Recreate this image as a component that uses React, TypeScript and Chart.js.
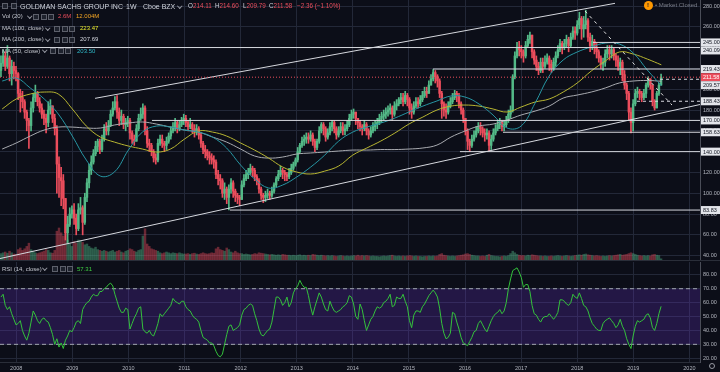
import React, { useEffect, useRef } from "react";
import { Chart, registerables } from "chart.js";

Chart.register(...registerables);

// ---------- time index (bi-weekly bars) ----------
const START_YEAR = 2007.728;
const STEP_YEARS = 14 / 365.25;
const FIRST_OPEN = 218;
const LAST_CLOSE = 211.58;

// ---------- price data (bi-weekly) ----------
const closes = [
  225, 232, 222, 230, 215, 222, 218, 215,
  196, 192, 188, 178, 170, 165,
  182, 192, 196, 188, 182, 176, 172, 168, 180, 184, 172, 162,
  128, 115, 112, 95, 62, 70, 80, 84,
  76, 66, 84, 86, 72, 96, 110, 122, 130, 138, 145, 150, 142, 152, 162, 160, 165, 176, 182, 188, 178, 170, 174, 166, 168, 170,
  158, 152, 150, 162, 172, 176, 182, 160, 148, 146, 140, 134, 132, 148, 152, 148, 146, 150, 155, 160, 164, 168, 162, 166, 170, 172,
  168, 164, 166, 162, 160, 162, 156, 148, 142, 140, 136, 134, 132, 130, 118, 114, 112, 100, 104, 96, 104, 110, 102, 98, 96, 94,
  108, 114, 118, 120, 124, 122, 116, 112, 104, 98, 96, 98, 100, 98, 102, 108, 114, 118, 122, 120, 118, 116, 120, 124, 128, 132,
  140, 146, 150, 152, 154, 152, 156, 150, 144, 150, 160, 166, 162, 154, 158, 164, 168, 162, 156, 160, 164, 160, 162, 166, 172, 176,
  178, 172, 168, 164, 162, 166, 160, 156, 160, 164, 166, 168, 172, 174, 176, 178, 180, 182, 176, 184, 186, 190, 192, 188, 194, 190,
  182, 178, 184, 188, 186, 190, 194, 198, 196, 204, 210, 216, 212, 208, 196, 186, 180, 178, 184, 188, 192, 196, 194, 186, 180, 172,
  160, 150, 146, 152, 156, 160, 164, 162, 158, 156, 158, 146, 152, 158, 162, 166, 168, 164, 166, 170, 176, 180, 212, 232, 240, 238, 236,
  232, 242, 248, 252, 236, 228, 222, 218, 226, 222, 226, 230, 224, 220, 226, 232, 238, 244, 240, 244, 248, 242, 250, 256, 254, 262,
  268, 258, 262, 266, 250, 242, 246, 240, 236, 230, 224, 226, 234, 238, 234, 238, 232, 228, 222, 226, 214, 204, 196, 178, 168, 186,
  196, 198, 196, 192, 196, 204, 210, 204, 188, 182, 196, 204, 211.58,
];

const highs = [
  232, 238, 236, 242, 232, 228, 226, 222,
  216, 200, 198, 190, 180, 172,
  188, 196, 204, 198, 192, 186, 180, 176, 188, 190, 182, 176,
  165, 135, 125, 118, 95, 78, 86, 88,
  90, 80, 90, 96, 88, 100, 114, 128, 136, 142, 150, 152, 152, 156, 166, 168, 170, 180, 188, 193, 194, 182, 180, 176, 172, 174,
  172, 160, 156, 166, 176, 182, 186, 184, 164, 152, 148, 142, 138, 152, 156, 156, 150, 154, 158, 164, 168, 172, 170, 170, 173, 176,
  175, 170, 172, 168, 166, 166, 164, 158, 150, 146, 142, 140, 138, 136, 132, 122, 118, 114, 110, 106, 108, 114, 112, 104, 100, 98,
  112, 118, 122, 124, 128, 126, 124, 118, 114, 106, 100, 102, 104, 102, 106, 110, 116, 122, 126, 124, 122, 120, 124, 128, 130, 134,
  144, 148, 154, 156, 158, 158, 160, 158, 152, 152, 164, 168, 168, 164, 162, 168, 170, 170, 164, 164, 168, 168, 166, 170, 176, 180,
  181, 178, 172, 170, 166, 170, 168, 162, 164, 168, 170, 172, 176, 178, 180, 182, 184, 186, 184, 188, 190, 192, 196, 196, 198, 196,
  192, 186, 188, 192, 192, 194, 198, 202, 202, 208, 214, 219, 218, 214, 210, 198, 188, 186, 188, 192, 196, 199, 198, 196, 188, 182,
  172, 162, 152, 156, 160, 164, 168, 168, 164, 162, 162, 160, 156, 162, 166, 170, 172, 170, 170, 174, 180, 184, 214, 236, 245, 246, 242,
  238, 246, 252, 255, 252, 238, 232, 226, 230, 230, 232, 234, 232, 228, 230, 236, 242, 248, 246, 248, 252, 250, 254, 260, 260, 266,
  274, 270, 270, 276, 268, 254, 252, 248, 244, 238, 232, 230, 238, 242, 242, 242, 240, 234, 232, 230, 228, 218, 206, 198, 182, 190,
  200, 202, 200, 198, 200, 206, 212, 210, 204, 190, 198, 206, 214.6,
];

const lows = [
  212, 222, 218, 220, 208, 204, 210, 208,
  190, 178, 182, 172, 160, 143,
  160, 178, 188, 184, 178, 172, 166, 158, 164, 176, 168, 156,
  100, 96, 88, 85, 55, 52, 68, 76,
  70, 60, 64, 80, 60, 70, 92, 105, 118, 128, 136, 140, 138, 140, 150, 156, 156, 164, 174, 180, 172, 165, 166, 162, 160, 164,
  152, 148, 146, 150, 160, 170, 172, 156, 144, 140, 136, 130, 128, 130, 146, 144, 140, 142, 148, 152, 158, 160, 158, 160, 164, 166,
  164, 160, 162, 158, 154, 156, 152, 144, 138, 134, 132, 128, 128, 124, 114, 108, 104, 96, 94, 90, 84, 100, 96, 92, 90, 88,
  94, 106, 112, 114, 118, 116, 112, 108, 100, 94, 91, 92, 95, 94, 96, 100, 106, 112, 116, 114, 112, 112, 114, 118, 122, 126,
  130, 138, 144, 146, 148, 148, 150, 146, 140, 142, 148, 158, 156, 150, 152, 156, 160, 158, 152, 154, 158, 156, 156, 160, 164, 170,
  172, 166, 162, 160, 156, 160, 156, 152, 154, 158, 160, 162, 166, 168, 170, 172, 174, 176, 170, 174, 180, 184, 186, 184, 186, 184,
  176, 172, 176, 182, 182, 184, 188, 192, 192, 196, 204, 208, 206, 202, 192, 172, 174, 172, 176, 182, 186, 190, 188, 182, 176, 168,
  156, 142, 140, 144, 150, 154, 158, 156, 154, 150, 152, 141, 142, 150, 156, 160, 162, 160, 160, 164, 168, 172, 178, 210, 230, 232, 230,
  226, 230, 240, 244, 230, 224, 218, 214, 216, 216, 220, 224, 218, 216, 218, 222, 230, 236, 234, 238, 240, 236, 240, 248, 248, 252,
  258, 248, 250, 258, 246, 236, 238, 234, 230, 226, 220, 218, 222, 230, 228, 230, 228, 222, 218, 214, 208, 200, 190, 170, 158, 160,
  184, 192, 190, 188, 190, 192, 202, 200, 184, 180, 182, 194, 204,
];

// volume (millions per week)
const volumes = [
  16, 18, 20, 17, 22, 18, 15, 14,
  26, 30, 24, 28, 34, 42,
  26, 22, 18, 16, 18, 20, 22, 26, 24, 18, 17, 24,
  72, 80, 68, 60, 70, 50,
  40, 34, 46, 42, 50, 48, 44, 38, 40,
  34, 30, 28, 32, 26, 24, 22, 24, 22, 20, 22, 24, 20, 22, 24,
  20, 18, 22, 24, 28, 26, 22, 20, 24, 26,
  60, 78, 40,
  34, 28, 26, 24, 22, 18, 16, 18, 20, 18, 16, 18, 17, 16, 18, 16, 15,
  15, 16, 14, 16, 17, 15, 14, 16, 18, 16, 15, 16, 18, 17, 28, 32, 26, 24, 22, 30, 26, 20, 18, 22, 18, 16,
  16, 14, 15, 14, 13, 14, 16, 15, 18, 17, 16, 15, 14, 13, 14, 13, 12, 13, 12, 14, 13, 12, 12, 11, 12, 11,
  12, 13, 11, 12, 11, 12, 11, 14, 13, 12, 11, 12, 11, 10, 11, 10, 11, 10, 9, 10, 11, 10, 9, 10, 9, 10,
  11, 10, 12, 10, 11, 10, 11, 10, 9, 10, 9, 9, 8, 9, 10, 9, 10, 11, 12, 10, 9, 10, 9, 10, 9, 10,
  11, 10, 9, 10, 9, 9, 8, 9, 9, 10, 9, 10, 9, 10, 14, 16, 12, 11, 10, 9, 10, 9, 10, 11, 12, 13,
  15, 16, 14, 12, 11, 10, 10, 9, 10, 9, 12, 14, 11, 10, 9, 9, 8, 9, 10, 9, 11, 16, 22, 18, 14, 12, 11,
  11, 10, 12, 11, 13, 12, 11, 10, 10, 9, 10, 9, 9, 10, 9, 10, 11, 10, 9, 10, 11, 10, 9, 10, 11, 12,
  13, 12, 14, 15, 13, 12, 11, 10, 11, 10, 9, 10, 9, 10, 11, 10, 11, 12, 13, 14, 12, 13, 14, 16, 18, 16,
  14, 12, 11, 10, 11, 10, 11, 10, 13, 14, 12, 11, 3,
];

// RSI(14) per bar
const rsi = [
  64, 66, 58, 55, 57, 52, 48, 44, 45, 47,
  40, 36, 33, 38, 46, 54, 51, 47, 45, 48,
  49, 47, 46, 42, 37, 30, 34, 28, 31, 27,
  33, 36, 40, 39, 42, 46, 47, 45, 55, 58,
  60, 61, 64, 66, 65, 65, 68, 68, 70, 71,
  73, 74, 72, 66, 61, 56, 53, 53, 56, 55,
  41, 45, 49, 52, 56, 57, 41, 39, 38, 40,
  37, 36, 40, 45, 52, 50, 52, 54, 56, 58,
  63, 61, 60, 59, 61, 61, 57, 55, 54, 51,
  49, 48, 46, 40, 35, 34, 33, 31, 31, 29,
  25, 22, 21, 23, 30, 37, 43, 44, 40, 41,
  42, 44, 51, 55, 56, 58, 59, 58, 52, 47,
  41, 37, 36, 38, 40, 41, 46, 55, 64, 64,
  62, 58, 60, 64, 57, 60, 67, 70, 72, 76,
  73, 71, 71, 65, 57, 51, 57, 62, 67, 64,
  59, 55, 54, 61, 57, 54, 53, 54, 55, 57,
  58, 60, 65, 64, 59, 50, 48, 59, 55, 47,
  40, 44, 48, 50, 54, 57, 56, 57, 60, 61,
  63, 66, 57, 58, 64, 63, 63, 66, 61, 57,
  47, 42, 51, 54, 54, 53, 57, 59, 62, 65,
  67, 69, 67, 64, 56, 45, 38, 34, 35, 38,
  53, 52, 46, 41, 35, 31, 30, 29, 32, 35,
  39, 40, 45, 47, 44, 41, 39, 43, 47, 50,
  52, 53, 55, 52, 54, 60, 70, 77, 83, 84,
  85, 82, 78, 71, 73, 73, 68, 58, 52, 51,
  48, 46, 49, 50, 50, 52, 50, 48, 50, 53,
  62, 62, 61, 59, 58, 60, 66, 64, 63, 67,
  63, 58, 57, 54, 49, 45, 43, 41, 40, 40,
  45, 47, 48, 49, 47, 45, 42, 44, 48, 43,
  40, 34, 30, 27, 36, 43, 47, 46, 47, 48,
  51, 52, 49, 42, 40, 45, 52, 57.31,
];

// moving averages (quarterly readings)
const maDates = [
  2007.75, 2008.0, 2008.25, 2008.5, 2008.75, 2009.0, 2009.25, 2009.5, 2009.75, 2010.0, 2010.25, 2010.5,
  2010.75, 2011.0, 2011.25, 2011.5, 2011.75, 2012.0, 2012.25, 2012.5, 2012.75, 2013.0, 2013.25, 2013.5,
  2013.75, 2014.0, 2014.25, 2014.5, 2014.75, 2015.0, 2015.25, 2015.5, 2015.75, 2016.0, 2016.25, 2016.5,
  2016.75, 2017.0, 2017.25, 2017.5, 2017.75, 2018.0, 2018.25, 2018.5, 2018.75, 2019.0, 2019.25, 2019.5,
];
const ma50 = [
  207.9, 210.8, 201.2, 190.6, 176.2, 155, 131.9, 116.5, 120.4, 141.5, 158.8, 164.6,
  163.6, 160.8, 158.8, 154, 143.5, 127.1, 113.7, 105, 107.9, 115.6, 125.2, 136.7,
  150.2, 158.8, 163.6, 167.5, 172.3, 178.1, 183.8, 188.7, 193.5, 192.5, 185.8, 175.2,
  162.7, 164.6, 186.7, 212.7, 228.1, 235.8, 240.6, 244.4, 243.5, 234.8, 218.5, 203.5,
];
const ma100 = [
  181, 190.6, 195.4, 197.3, 195.4, 181, 164.6, 154, 149.2, 145.4, 142.5, 139.6,
  142.5, 152.1, 159.8, 158.8, 155, 148.3, 141.5, 133.8, 125.2, 120.4, 118.5, 121.3,
  126.2, 136.7, 143.5, 150.2, 157.9, 166.5, 173.3, 180, 183.8, 184.8, 183.8, 181,
  178.1, 182.9, 187.7, 190.6, 197.3, 206, 217.5, 227.1, 235.8, 233.8, 229, 223.47,
];
const ma200 = [
  142.5, 148.3, 155, 160.8, 163.6, 163.6, 162.7, 162.7, 165.6, 167.5, 168.5, 166.5,
  163.6, 160.8, 158.8, 154, 149.2, 142.5, 135.8, 133.8, 134.8, 137.7, 138.7, 139.6,
  140.6, 141.5, 141.5, 142, 142, 142.5, 143.5, 146.3, 154, 159.8, 164.6, 166.5,
  170.4, 175.2, 179, 183.8, 191.5, 194.4, 197.3, 201.2, 206, 207.9, 208.4, 207.69,
];

// drawn levels and trend lines
const levelPrices = [245, 240.09, 219.43, 209.57, 188.43, 170, 158.63, 140, 83.83];
const levelStarts = [2018.282, 2007.711, 2015.43, 2019.477, 2019.066, 2010.42, 2016.677, 2015.91, 2011.81];
const dashedLevels = [209.57, 188.43];
const upperChannelDates = [2009.405, 2018.674];
const upperChannelPrices = [191.25, 282.6];
const lowerChannelDates = [2007.711, 2020.189];
const lowerChannelPrices = [37.2, 185.3];
const downtrendDates = [2018.139, 2019.69];
const downtrendPrices = [275.2, 184.8];

// ---------- layout / style ----------
const X_MIN = 2007.711;
const X_MAX = 2020.189;
const PRICE_MIN = 35.8;
const PRICE_MAX = 285.8;
const RSI_MIN = 17.3;
const RSI_MAX = 89.2;
const VOL_MAX = 650;

const FONT = '"Liberation Sans", Arial, sans-serif';
const BG = "#0c0e18";
const GRID = "#232838";
const AXIS_TEXT = "#b2b5be";
const AXIS_LINE = "#4a4d58";
const UP = "#53b987";
const DOWN = "#eb4d5c";
const LEVEL = "#d6d8de";

const fitRight = (s: any) => {
  s.width = 20;
  s.paddingTop = 0;
  s.paddingBottom = 0;
};

const priceBoxes = {
  id: "priceBoxes",
  afterDraw(chart: any) {
    const ctx = chart.ctx;
    const y = chart.scales.y;
    const items = levelPrices
      .map((p) => ({ p, red: false }))
      .concat([{ p: LAST_CLOSE, red: true }])
      .sort((a, b) => b.p - a.p);
    let prev = -100;
    ctx.save();
    ctx.font = `5.5px ${FONT}`;
    ctx.textBaseline = "middle";
    for (const it of items) {
      let cy = y.getPixelForValue(it.p);
      if (cy - 4 < prev) cy = prev + 4;
      prev = cy + 4;
      ctx.fillStyle = it.red ? DOWN : "#e3e5ea";
      ctx.fillRect(701, cy - 4, 19, 8);
      ctx.fillStyle = it.red ? "#ffffff" : "#131722";
      ctx.fillText(it.p.toFixed(2), 703, cy + 0.5);
    }
    ctx.restore();
  },
};

function seg(dates: number[], prices: number[], color: string, dash: number[], order: number) {
  return {
    type: "line",
    data: dates.map((d, k) => ({ x: d, y: prices[k] })),
    borderColor: color,
    borderWidth: 1,
    borderDash: dash,
    pointRadius: 0,
    fill: false,
    tension: 0,
    order,
    yAxisID: "y",
  };
}

function maLine(values: number[], color: string) {
  return {
    type: "line",
    data: maDates.map((d, k) => ({ x: d, y: values[k] })),
    borderColor: color,
    borderWidth: 1,
    pointRadius: 0,
    fill: false,
    tension: 0.4,
    order: 2,
    yAxisID: "y",
  };
}

const Icon = ({ left, top }: { left: number; top: number }) => (
  <div
    style={{
      position: "absolute",
      left,
      top,
      width: 6,
      height: 6,
      border: "1px solid #5d606b",
      background: "#1e222d",
      boxSizing: "border-box",
    }}
  />
);

const Chevron = ({ left, top }: { left: number; top: number }) => (
  <div
    style={{
      position: "absolute",
      left,
      top,
      width: 2.5,
      height: 2.5,
      borderRight: "1px solid #9598a1",
      borderBottom: "1px solid #9598a1",
      transform: "rotate(45deg)",
    }}
  />
);

const T = ({ left, top, color, children, size = 6 }: any) => (
  <div
    style={{
      position: "absolute",
      left,
      top,
      fontSize: size,
      lineHeight: `${size + 2}px`,
      color,
      whiteSpace: "nowrap",
    }}
  >
    {children}
  </div>
);

export default function App() {
  const mainRef = useRef<HTMLCanvasElement | null>(null);
  const rsiRef = useRef<HTMLCanvasElement | null>(null);

  useEffect(() => {
    if (!mainRef.current || !rsiRef.current) return;
    const n = Math.min(closes.length, highs.length, lows.length, volumes.length, rsi.length);
    const xs: number[] = [];
    const opens: number[] = [];
    for (let i = 0; i < n; i++) {
      xs.push(START_YEAR + i * STEP_YEARS);
      opens.push(i === 0 ? FIRST_OPEN : closes[i - 1]);
    }
    const isUp = xs.map((_, i) => closes[i] >= opens[i]);
    const candleColors = isUp.map((u) => (u ? UP : DOWN));
    const volColors = isUp.map((u) => (u ? "rgba(83,185,135,0.42)" : "rgba(235,77,92,0.42)"));
    const wickData = xs.map((x, i) => ({
      x,
      y: [Math.min(lows[i], opens[i], closes[i]), Math.max(highs[i], opens[i], closes[i])],
    }));
    const bodyData = xs.map((x, i) => ({ x, y: [opens[i], closes[i]] }));
    const volData = xs.map((x, i) => ({ x, y: volumes[i] }));
    const rsiData = xs.map((x, i) => ({ x, y: rsi[i] }));

    const levelSets = levelPrices.map((p, k) =>
      seg([levelStarts[k], X_MAX], [p, p], LEVEL, dashedLevels.includes(p) ? [3, 3] : [], 1)
    );

    const mainChart = new Chart(mainRef.current, {
      type: "bar",
      data: {
        datasets: [
          seg([X_MIN, X_MAX], [LAST_CLOSE, LAST_CLOSE], DOWN, [1, 2], 0) as any,
          ...(levelSets as any[]),
          seg(upperChannelDates, upperChannelPrices, LEVEL, [], 1) as any,
          seg(lowerChannelDates, lowerChannelPrices, LEVEL, [], 1) as any,
          seg(downtrendDates, downtrendPrices, "#e8e8e8", [3, 4], 1) as any,
          maLine(ma50, "#2796a3") as any,
          maLine(ma100, "#b8b632") as any,
          maLine(ma200, "#a9abb0") as any,
          {
            type: "bar",
            data: bodyData as any,
            backgroundColor: candleColors,
            barThickness: 1.8,
            minBarLength: 1,
            grouped: false,
            order: 3,
            yAxisID: "y",
          },
          {
            type: "bar",
            data: wickData as any,
            backgroundColor: candleColors,
            barThickness: 1,
            grouped: false,
            order: 4,
            yAxisID: "y",
          },
          {
            type: "bar",
            data: volData as any,
            backgroundColor: volColors,
            barThickness: 1.8,
            grouped: false,
            order: 5,
            yAxisID: "yVol",
          },
        ],
      },
      options: {
        animation: false,
        responsive: false,
        maintainAspectRatio: false,
        events: [],
        layout: { padding: 0 },
        plugins: { legend: { display: false }, tooltip: { enabled: false } },
        scales: {
          x: {
            type: "linear",
            min: X_MIN,
            max: X_MAX,
            offset: false,
            ticks: { display: false, stepSize: 1, includeBounds: false },
            grid: { color: GRID, drawTicks: false, offset: false },
            border: { display: false },
            afterFit: (s: any) => {
              s.height = 0;
              s.paddingLeft = 0;
              s.paddingRight = 0;
            },
          },
          y: {
            type: "linear",
            position: "right",
            min: PRICE_MIN,
            max: PRICE_MAX,
            ticks: {
              stepSize: 20,
              includeBounds: false,
              color: AXIS_TEXT,
              font: { size: 5.5, family: FONT },
              padding: 3,
              callback: (v: any) => Number(v).toFixed(2),
            },
            grid: { color: GRID, drawTicks: false },
            border: { display: true, color: AXIS_LINE },
            afterFit: fitRight,
          },
          yVol: { type: "linear", display: false, min: 0, max: VOL_MAX },
        },
      } as any,
      plugins: [priceBoxes],
    });

    const rsiChart = new Chart(rsiRef.current, {
      type: "line",
      data: {
        datasets: [
          {
            data: rsiData as any,
            borderColor: "#34c23c",
            borderWidth: 1,
            pointRadius: 0,
            tension: 0,
            fill: false,
            order: 0,
          },
          {
            data: [
              { x: X_MIN, y: 70 },
              { x: X_MAX, y: 70 },
            ] as any,
            borderColor: "#a3a6af",
            borderWidth: 1,
            borderDash: [4, 3],
            pointRadius: 0,
            fill: false,
            order: 1,
          },
          {
            data: [
              { x: X_MIN, y: 30 },
              { x: X_MAX, y: 30 },
            ] as any,
            borderColor: "#a3a6af",
            borderWidth: 1,
            borderDash: [4, 3],
            pointRadius: 0,
            fill: "-1",
            backgroundColor: "rgba(104,50,200,0.26)",
            order: 1,
          },
        ],
      },
      options: {
        animation: false,
        responsive: false,
        maintainAspectRatio: false,
        events: [],
        layout: { padding: { top: 2, left: 0, right: 0, bottom: 0 } },
        plugins: { legend: { display: false }, tooltip: { enabled: false } },
        scales: {
          x: {
            type: "linear",
            min: X_MIN,
            max: X_MAX,
            ticks: {
              stepSize: 1,
              includeBounds: false,
              color: AXIS_TEXT,
              font: { size: 5.5, family: FONT },
              padding: 3,
              maxRotation: 0,
              autoSkip: false,
              callback: (v: any) => String(v),
            },
            grid: { color: GRID, drawTicks: false },
            border: { display: true, color: "#2a2e39" },
            afterFit: (s: any) => {
              s.height = 10;
              s.paddingLeft = 0;
              s.paddingRight = 0;
            },
          },
          y: {
            type: "linear",
            position: "right",
            min: RSI_MIN,
            max: RSI_MAX,
            ticks: {
              stepSize: 10,
              includeBounds: false,
              color: AXIS_TEXT,
              font: { size: 5.5, family: FONT },
              padding: 3,
              callback: (v: any) => Number(v).toFixed(2),
            },
            grid: { color: GRID, drawTicks: false },
            border: { display: true, color: AXIS_LINE },
            afterFit: fitRight,
          },
        },
      } as any,
    });

    return () => {
      mainChart.destroy();
      rsiChart.destroy();
    };
  }, []);

  const red = "#eb4d5c";
  const white = "#d1d4dc";
  const label = "#c3c6ce";

  return (
    <div
      style={{
        position: "fixed",
        left: 0,
        top: 0,
        width: 720,
        height: 372,
        background: BG,
        overflow: "hidden",
        fontFamily: FONT,
      }}
    >
      <canvas
        ref={mainRef}
        width={720}
        height={260}
        style={{ position: "absolute", left: 0, top: 0, width: 720, height: 260 }}
      />
      <div style={{ position: "absolute", left: 0, top: 260, width: 720, height: 1, background: "#2a2e39" }} />
      <canvas
        ref={rsiRef}
        width={720}
        height={112}
        style={{ position: "absolute", left: 0, top: 260, width: 720, height: 112 }}
      />

      {/* header row */}
      <Icon left={2} top={3} />
      <Icon left={11} top={3} />
      <T left={20} top={1.5} color={white} size={7}>GOLDMAN SACHS GROUP INC</T>
      <T left={126} top={1.5} color={white} size={7}>1W</T>
      <T left={143} top={1.5} color={white} size={7}>Cboe BZX</T>
      <Chevron left={178} top={3.5} />
      <T left={188} top={2} color={white} size={6.3}>
        O<span style={{ color: red }}>214.11</span>
      </T>
      <T left={215} top={2} color={white} size={6.3}>
        H<span style={{ color: red }}>214.60</span>
      </T>
      <T left={243} top={2} color={white} size={6.3}>
        L<span style={{ color: red }}>209.79</span>
      </T>
      <T left={269} top={2} color={white} size={6.3}>
        C<span style={{ color: red }}>211.58</span>
      </T>
      <T left={297} top={2} color={red} size={6.3}>−2.36 (−1.10%)</T>

      {/* indicator rows */}
      <T left={2} top={12.3} color={label}>Vol (20)</T>
      <Chevron left={28} top={13.5} />
      <Icon left={33} top={13.5} />
      <Icon left={40.5} top={13.5} />
      <Icon left={48} top={13.5} />
      <T left={58} top={12.3} color={red}>2.6M</T>
      <T left={76} top={12.3} color="#f5a623">12.004M</T>

      <T left={2} top={24.3} color={label}>MA (100, close)</T>
      <Chevron left={46} top={25.5} />
      <Icon left={54} top={25.5} />
      <Icon left={61.5} top={25.5} />
      <Icon left={69} top={25.5} />
      <T left={80} top={24.3} color="#e8e82a">223.47</T>

      <T left={2} top={35.3} color={label}>MA (200, close)</T>
      <Chevron left={46} top={36.5} />
      <Icon left={54} top={36.5} />
      <Icon left={61.5} top={36.5} />
      <Icon left={69} top={36.5} />
      <T left={80} top={35.3} color={white}>207.69</T>

      <T left={2} top={46.7} color={label}>MA (50, close)</T>
      <Chevron left={43} top={48} />
      <Icon left={50} top={48} />
      <Icon left={57.5} top={48} />
      <Icon left={65} top={48} />
      <T left={77} top={46.7} color="#2fb8c8">203.50</T>

      <T left={2} top={265} color={label}>RSI (14, close)</T>
      <Chevron left={43} top={266.3} />
      <Icon left={52} top={266.3} />
      <Icon left={59.5} top={266.3} />
      <Icon left={67} top={266.3} />
      <T left={77} top={265} color="#3fd043">57.31</T>

      {/* market status */}
      <div
        style={{
          position: "absolute",
          left: 643.5,
          top: 0.5,
          width: 9,
          height: 9,
          borderRadius: 5,
          background: "#ff9800",
          color: "#131722",
          fontSize: 6,
          lineHeight: "9px",
          textAlign: "center",
          fontWeight: 700,
        }}
      >
        !
      </div>
      <T left={655} top={1} color="#787b86">• Market Closed</T>

      {/* settings glyph */}
      <div
        style={{
          position: "absolute",
          left: 709,
          top: 363,
          width: 6,
          height: 6,
          borderRadius: 3,
          border: "1px solid #9598a1",
          boxSizing: "border-box",
        }}
      />
    </div>
  );
}
